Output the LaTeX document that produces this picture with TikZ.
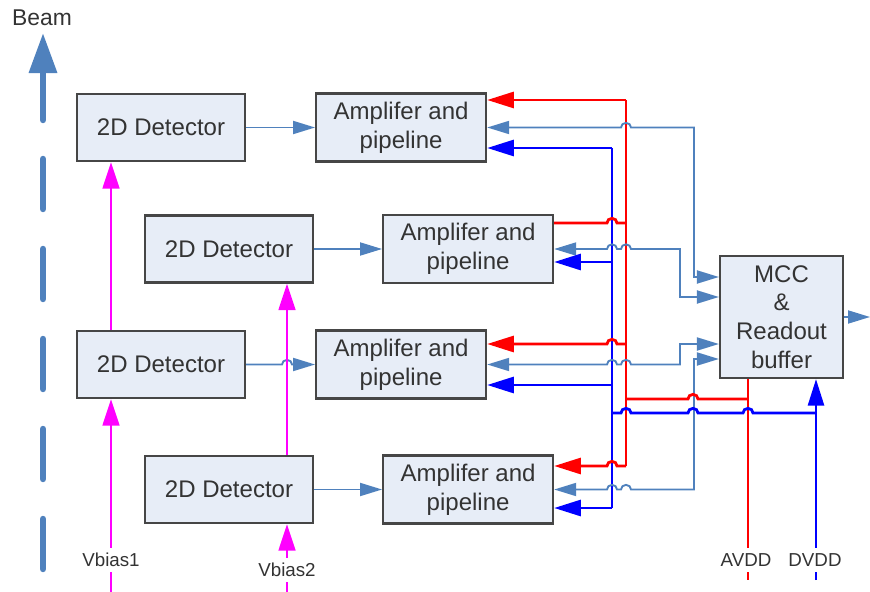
\documentclass[tikz,border=0pt]{standalone}
\usepackage{fontspec}
\setmainfont{Liberation Sans}
\usetikzlibrary{
    arrows.meta,
    positioning
}
\definecolor{boxfill}{RGB}{231,237,247}
\definecolor{boxline}{RGB}{70,70,70}
\definecolor{sigblue}{RGB}{79,129,189}
\definecolor{pwrred}{RGB}{255,0,0}
\definecolor{pwrblue}{RGB}{0,0,255}
\definecolor{biasmag}{RGB}{255,0,255}
\newcommand{\hopr}{arc[start angle=180,end angle=0,x radius=0.15cm,y radius=0.14cm]}
\newcommand{\hopl}{arc[start angle=0,end angle=180,x radius=0.15cm,y radius=0.14cm]}
\tikzset{
    detbox/.style={
        draw=boxline,
        fill=boxfill,
        line width=1.8pt,
        minimum width=5.04cm,
        minimum height=2.01cm,
        align=center
    },
    ampbox/.style={
        detbox,
        minimum width=5.1cm,
        minimum height=2.04cm
    },
    mccbox/.style={
        detbox,
        minimum width=3.69cm,
        minimum height=3.66cm
    },
    sigline/.style={
        sigblue,
        line width=1.6pt
    },
    sigarr/.style={
        sigline,
        -{Triangle[length=0.66cm,width=0.39cm]}
    },
    sigboth/.style={
        sigline,
        {Triangle[length=0.66cm,width=0.39cm]}-{Triangle[length=0.66cm,width=0.39cm]}
    },
    aline/.style={
        pwrred,
        line width=2.4pt
    },
    aarr/.style={
        aline,
        -{Triangle[length=0.8cm,width=0.48cm]}
    },
    dline/.style={
        pwrblue,
        line width=2.4pt
    },
    darr/.style={
        dline,
        -{Triangle[length=0.8cm,width=0.48cm]}
    },
    biasarr/.style={
        biasmag,
        line width=2.4pt,
        -{Triangle[length=0.8cm,width=0.5cm]}
    },
    beamseg/.style={
        sigblue,
        line width=5.5pt,
        line cap=round
    },
    beamarr/.style={
        beamseg,
        -{Triangle[length=1.2cm,width=0.81cm]}
    },
    lbl/.style={
        font=\fontsize{16}{18}\selectfont,
        fill=white,
        inner xsep=1pt,
        inner ysep=4.5pt
    }
}

\begin{document}
\begin{tikzpicture}[
    x=0.03cm,
    y=-0.03cm,
    every node/.style={font=\fontsize{20.5}{24.5}\selectfont, text=black!80}
]
\useasboundingbox (0,0) rectangle (870,592);

% detectors, amplifiers and MCC
\node[detbox] (det1) at (161,127.5) {2D Detector};
\node[ampbox, right=2.07cm of det1] (amp1) {Amplifer and\\ pipeline};
\node[detbox] (det2) at (229,249) {2D Detector};
\node[ampbox, right=2.04cm of det2] (amp2) {Amplifer and\\ pipeline};
\node[detbox] (det3) at (161,364.5) {2D Detector};
\node[ampbox, right=2.07cm of det3] (amp3) {Amplifer and\\ pipeline};
\node[detbox] (det4) at (229,489.5) {2D Detector};
\node[ampbox, right=2.04cm of det4] (amp4) {Amplifer and\\ pipeline};
\node[mccbox] (mcc) at (781.5,317) {MCC\\ \&\\ Readout\\ buffer};

% beam
\foreach \ya/\yb in {569/519, 479/429, 389/339, 299/249, 209/159}
    \draw[beamseg] (43,\ya) -- (43,\yb);
\coordinate (beam0) at (43,120);
\coordinate (beam1) at (43,33);
\draw[beamarr] (beam0) -- (beam1);

% detector -> amplifier
\draw[sigarr] (det1.east) -- (det1.east -| amp1.west);
\draw[sigarr] (det2.east) -- (det2.east -| amp2.west);
\draw[sigarr] (det3.east) -- (282,364.5) \hopr -- (det3.east -| amp3.west);
\draw[sigarr] (det4.east) -- (det4.east -| amp4.west);

% bias
\coordinate (vb1end) at (111,592);
\coordinate (vb2end) at (287,592);
\draw[biasarr] (vb1end) -- (det3.south -| vb1end);
\draw[biasarr] (det3.north -| vb1end) -- (det1.south -| vb1end);
\draw[biasarr] (vb2end) -- (det4.south -| vb2end);
\draw[biasarr] (det4.north -| vb2end) -- (det2.south -| vb2end);

% supply taps
\coordinate (rA1) at (626,100);
\coordinate (rA2) at (626,223);
\coordinate (rA3) at (626,344);
\coordinate (rA4) at (626,466);
\coordinate (rAV) at (626,399);
\coordinate (bA1) at (612,148);
\coordinate (bA2) at (612,262);
\coordinate (bA3) at (612,385);
\coordinate (bA4) at (612,508);
\coordinate (bDV) at (612,413);
\coordinate (avend) at (748,580);
\coordinate (dvend) at (816,580);

% vertical buses
\draw[dline] (bA1) -- (bA4);
\draw[aline] (rA1) -- (rA4);
\draw[aline] (mcc.south -| avend) -- (avend);

% amplifier <-> MCC
\draw[sigboth] (mcc.west |- 0,277) -- (694,277) -- (694,127.5) -- (631,127.5) \hopl -- (amp1.east);
\draw[sigboth] (mcc.west |- 0,297) -- (680,297) -- (680,249) -- (631,249) \hopl -- (617,249) \hopl -- (amp2.east);
\draw[sigboth] (mcc.west |- 0,344) -- (680,344) -- (680,364.5) -- (631,364.5) \hopl -- (617,364.5) \hopl -- (amp3.east);
\draw[sigboth] (mcc.west |- 0,359) -- (694,359) -- (694,489.5) -- (631,489.5) \hopl -- (617,489.5) \hopl -- (amp4.east);
\coordinate (out) at (870,317);
\draw[sigarr] (mcc.east) -- (out);

% AVDD
\draw[aarr] (rA1) -- (rA1 -| amp1.east);
\draw[aline] (amp2.east |- rA2) -- (607,223) \hopr -- (rA2);
\draw[aarr] (rA3) -- (617,344) \hopl -- (rA3 -| amp3.east);
\draw[aarr] (rA4) -- (617,466) \hopl -- (rA4 -| amp4.east);
\draw[aline] (rAV) -- (688,399) \hopr -- (rAV -| avend);

% DVDD
\draw[darr] (bA1) -- (bA1 -| amp1.east);
\draw[darr] (bA2) -- (bA2 -| amp2.east);
\draw[darr] (bA3) -- (bA3 -| amp3.east);
\draw[darr] (bA4) -- (bA4 -| amp4.east);
\draw[dline] (bDV) -- (621,413) \hopr -- (688,413) \hopr -- (743,413) \hopr -- (bDV -| dvend);
\draw[darr] (dvend) -- (mcc.south -| dvend);

% labels
\node[font=\fontsize{19.5}{21}\selectfont] (beamlbl) at (42,18) {Beam};
\node[lbl] (vb1) at (111,560) {Vbias1};
\node[lbl] (vb2) at (287,570) {Vbias2};
\node[lbl] (avdd) at (746,560) {AVDD};
\node[lbl] (dvdd) at (815,560) {DVDD};

\end{tikzpicture}
\end{document}
